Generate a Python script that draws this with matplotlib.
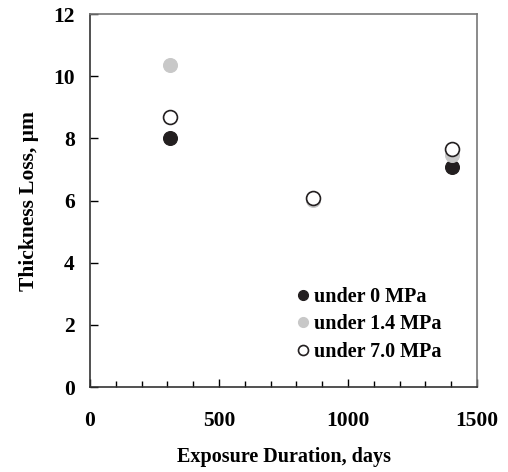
import numpy as np
import matplotlib
matplotlib.use("Agg")
import matplotlib.pyplot as plt
from matplotlib.ticker import MultipleLocator

# exposure duration (days) and thickness loss (um)
days = [310, 864, 1403]
loss_0mpa = [8.01, 6.05, 7.08]
loss_14mpa = [10.36, 6.03, 7.46]
loss_70mpa = [8.69, 6.08, 7.66]
labels = ["under 0 MPa", "under 1.4 MPa", "under 7.0 MPa"]

plt.rcParams['font.family'] = ['Liberation Serif', 'DejaVu Serif']
plt.rcParams['font.weight'] = 'bold'

fig = plt.figure(figsize=(5.08, 4.72), dpi=100)
ax = fig.add_axes([0.1772, 0.180, 0.7618, 0.790])

ms = 10
ax.plot(days, loss_0mpa, 'o', ms=ms, mfc='#231f20', mec='#231f20', mew=0.8, label=labels[0])
ax.plot(days, loss_14mpa, 'o', ms=ms, mfc='#c8c8c8', mec='#c8c8c8', mew=0.8, label=labels[1])
ax.plot(days, loss_70mpa, 'o', ms=ms, mfc='white', mec='#231f20', mew=1.2, label=labels[2])

ax.set_xlim(0, 1500)
ax.set_ylim(0, 12)
ax.xaxis.set_major_locator(MultipleLocator(500))
ax.xaxis.set_minor_locator(MultipleLocator(100))
ax.yaxis.set_major_locator(MultipleLocator(2))

for s in ax.spines.values():
    s.set_linewidth(1.2)
    s.set_color('#333333')
ax.spines['top'].set_color('#777777')
ax.spines['right'].set_color('#777777')

ax.tick_params(axis='x', which='major', direction='in', length=6, width=1, pad=17, labelsize=15.5)
ax.tick_params(axis='x', which='minor', direction='in', length=4, width=1)
ax.tick_params(axis='y', which='major', direction='in', length=6, width=1, pad=11, labelsize=15.5)

ax.set_xlabel('Exposure Duration, days', fontsize=14.5, fontweight='bold', labelpad=12)
ax.set_ylabel('Thickness Loss, μm', fontsize=15.5, fontweight='bold', labelpad=10)

ax.legend(loc='upper left', bbox_to_anchor=(0.504, 0.296), frameon=False,
          handletextpad=0.15, labelspacing=0.38, borderpad=0, markerscale=0.72,
          handlelength=0.8, prop={'weight': 'bold', 'size': 14.5})

fig.savefig('out.png', dpi=100)
